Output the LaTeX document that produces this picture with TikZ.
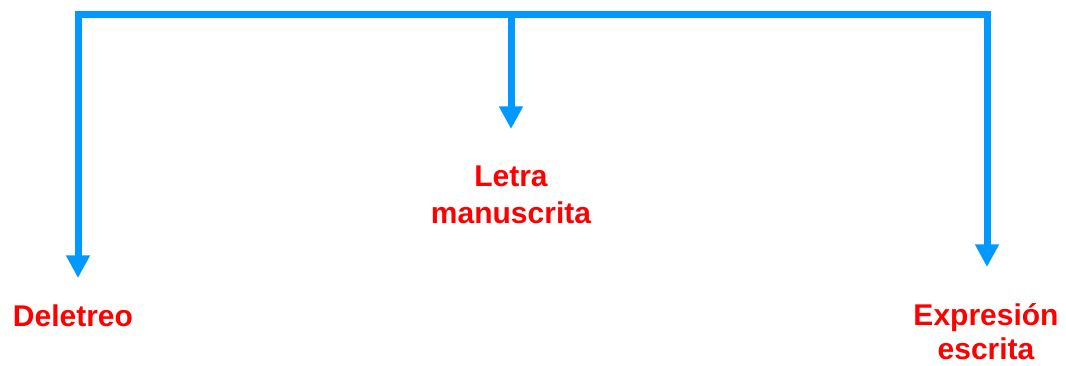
\documentclass[tikz,border=0pt]{standalone}
\usepackage{fontspec}
\setmainfont{Liberation Sans}
\usetikzlibrary{arrows.meta}
\definecolor{flowblue}{RGB}{0,153,255}
\tikzset{>={Triangle[length=17pt,width=17pt]}}
\tikzset{flow/.style={draw=flowblue,line width=5.25pt},
  lbl/.style={text=red,font=\fontsize{22.5}{27}\selectfont\bfseries,align=center,inner sep=0pt,anchor=base}}

\begin{document}
\begin{tikzpicture}[x=0.75pt,y=-0.75pt]
			\useasboundingbox (0,0) rectangle (1066,365);
			% top bar
			\coordinate (barL) at (78,14);
			\coordinate (barM) at (511,14);
			\coordinate (barR) at (987,14);
			\draw[flow,line cap=rect] (barL) -- (barR);
			% arrow ends
			\coordinate (tipL) at (78,278);
			\coordinate (tipM) at (511,129);
			\coordinate (tipR) at (987,267);
			\draw[flow,->] (barL) -- (tipL);
			\draw[flow,->] (barM) -- (tipM);
			\draw[flow,->] (barR) -- (tipR);
			% labels
			\node[lbl] (del) at (73,326) {Deletreo};
			\node[lbl] (letra) at (511,186) {Letra};
			\node[lbl] (manu) at (511,223) {manuscrita};
			\node[lbl] (expr) at (986,325) {Expresión};
			\node[lbl] (escr) at (986,359) {escrita};
		\end{tikzpicture}
\end{document}
